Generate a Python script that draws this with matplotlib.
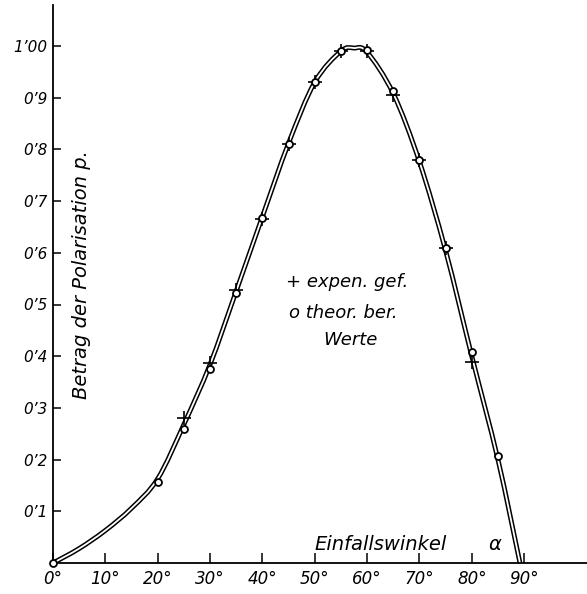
import matplotlib
matplotlib.use("Agg")
import matplotlib.pyplot as plt
import numpy as np
from matplotlib.path import Path
from matplotlib.patches import PathPatch

# curve drawn through the figure
curve_angle = [0, 5, 10, 15, 20, 25, 30, 35, 40, 45, 50, 55, 57.5, 60, 65, 70, 75, 80, 85, 89.2]
curve_value = [0, 0.028, 0.063, 0.106, 0.163, 0.268, 0.384, 0.526, 0.67, 0.812, 0.93, 0.99, 0.996, 0.988, 0.908, 0.776, 0.604, 0.4, 0.2, 0.0]

# theoretical values (circles)
theo_angle = [0, 20, 25, 30, 35, 40, 45, 50, 55, 60, 65, 70, 75, 80, 85]
theo_value = [0, 0.157, 0.259, 0.376, 0.522, 0.667, 0.81, 0.93, 0.99, 0.992, 0.912, 0.779, 0.609, 0.408, 0.207]

# experimental values (crosses)
exp_angle = [25, 30, 35, 40, 45, 50, 55, 60, 65, 70, 75, 80]
exp_value = [0.28, 0.387, 0.528, 0.665, 0.81, 0.93, 0.99, 0.99, 0.905, 0.78, 0.609, 0.389]

x_ticks = [0, 10, 20, 30, 40, 50, 60, 70, 80, 90]
x_labels = ["0°", "10°", "20°", "30°", "40°", "50°", "60°", "70°", "80°", "90°"]
y_ticks = [0.1, 0.2, 0.3, 0.4, 0.5, 0.6, 0.7, 0.8, 0.9, 1.0]
y_labels = ["0’1", "0’2", "0’3", "0’4", "0’5", "0’6", "0’7", "0’8", "0’9", "1’00"]

W, H = 587, 594
fig = plt.figure(figsize=(W / 100, H / 100), dpi=100)
ax = fig.add_axes([53 / W, 31 / H, 534 / W, 558 / H])
ax.set_xlim(0, 534 / 5.235)
ax.set_ylim(0, 558 / 517)


def smooth_path(xs, ys):
    """Catmull-Rom spline through the read points, as cubic Bezier path."""
    p = np.column_stack([xs, ys]).astype(float)
    pts = np.vstack([p[0], p, p[-1]])
    verts = [p[0]]
    codes = [Path.MOVETO]
    for i in range(1, len(pts) - 2):
        p0, p1, p2, p3 = pts[i - 1], pts[i], pts[i + 1], pts[i + 2]
        c1 = p1 + (p2 - p0) / 6.0
        c2 = p2 - (p3 - p1) / 6.0
        verts += [c1, c2, p2]
        codes += [Path.CURVE4] * 3
    return Path(np.array(verts), codes)


path = smooth_path(curve_angle, curve_value)
ax.add_patch(PathPatch(path, facecolor="none", edgecolor="black", lw=3.5,
                       capstyle="butt", joinstyle="round", zorder=2, clip_on=False))
ax.add_patch(PathPatch(path, facecolor="none", edgecolor="white", lw=1.3,
                       capstyle="butt", joinstyle="round", zorder=2.1, clip_on=False))

ax.plot(exp_angle, exp_value, linestyle="none", marker="+", markersize=10,
        markeredgewidth=1.2, color="black", zorder=3, clip_on=False)
ax.plot(theo_angle, theo_value, linestyle="none", marker="o", markersize=5,
        markerfacecolor="white", markeredgecolor="black", markeredgewidth=1.3,
        zorder=4, clip_on=False)

for s in ["top", "right"]:
    ax.spines[s].set_visible(False)
for s in ["left", "bottom"]:
    ax.spines[s].set_linewidth(1.3)

ax.set_xticks(x_ticks)
ax.set_xticklabels(x_labels, fontsize=12, style="italic")
ax.set_yticks(y_ticks)
ax.set_yticklabels(y_labels, fontsize=11, style="italic")
ax.tick_params(axis="x", direction="in", length=7, width=1.1, pad=5)
ax.tick_params(axis="y", direction="in", length=6, width=1.1, pad=4)

ax.text(5.35, 0.557, "Betrag der Polarisation p.", rotation=90, ha="center", va="center",
        fontsize=14, style="italic")
ax.text(50.0, 0.035, "Einfallswinkel", ha="left", va="center", fontsize=14, style="italic")
ax.text(84.4, 0.035, "α", ha="center", va="center", fontsize=14, style="italic")

ax.text(44.5, 0.543, "+ expen. gef.", ha="left", va="center", fontsize=13, style="italic")
ax.text(45.1, 0.484, "o theor. ber.", ha="left", va="center", fontsize=13, style="italic")
ax.text(51.6, 0.431, "Werte", ha="left", va="center", fontsize=13, style="italic")

fig.savefig("out.png", dpi=100)
